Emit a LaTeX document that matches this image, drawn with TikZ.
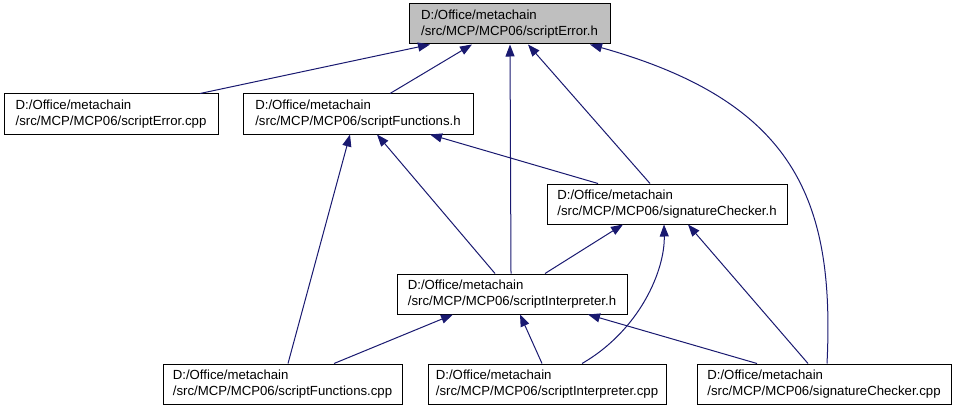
\documentclass[tikz,border=0pt]{standalone}
\usepackage{fontspec}
\setmainfont{Liberation Sans}
\usetikzlibrary{arrows.meta}
\definecolor{edgeblue}{HTML}{191970}

\begin{document}
\begin{tikzpicture}[x=1pt, y=-1pt,
        file/.style={draw, line width=1pt, rectangle, align=left, minimum height=40pt,
            inner ysep=2pt, font=\fontsize{13.2}{16.7}\selectfont},
        edge/.style={draw=edgeblue, line width=1pt,
            -{Triangle[length=12pt, width=9pt, fill=edgeblue]}}]
        \useasboundingbox (0,0) rectangle (957,409);

        % Draw file nodes
        \node[file, fill=gray!50, minimum width=201pt] (errorh) at (509.5,24) {D:/Office/metachain\\/src/MCP/MCP06/scriptError.h};
        \node[file, minimum width=214pt] (errorcpp) at (111,114) {D:/Office/metachain\\/src/MCP/MCP06/scriptError.cpp};
        \node[file, minimum width=230pt] (functionsh) at (358,114) {D:/Office/metachain\\/src/MCP/MCP06/scriptFunctions.h};
        \node[file, minimum width=240pt] (checkerh) at (667,204) {D:/Office/metachain\\/src/MCP/MCP06/signatureChecker.h};
        \node[file, minimum width=230pt] (interpreterh) at (512,294) {D:/Office/metachain\\/src/MCP/MCP06/scriptInterpreter.h};
        \node[file, minimum width=239pt] (functionscpp) at (282.5,384) {D:/Office/metachain\\/src/MCP/MCP06/scriptFunctions.cpp};
        \node[file, minimum width=238pt] (interpretercpp) at (547,384) {D:/Office/metachain\\/src/MCP/MCP06/scriptInterpreter.cpp};
        \node[file, minimum width=254pt] (checkercpp) at (824,384) {D:/Office/metachain\\/src/MCP/MCP06/signatureChecker.cpp};

        % Draw edges into scriptError.h
        \draw[edge] ([xshift=89pt]errorcpp.north) -- ([xshift=-79.5pt]errorh.south);
        \draw[edge] ([xshift=32pt]functionsh.north) -- ([xshift=-37.5pt]errorh.south);
        \draw[edge] ([xshift=-1pt]interpreterh.north) -- ([xshift=0.5pt]errorh.south);
        \draw[edge] ([xshift=-17pt]checkerh.north) -- ([xshift=18.5pt]errorh.south);
        \draw[edge] ([xshift=3pt]checkercpp.north) .. controls (835,200) and (795,102) .. ([xshift=80.5pt]errorh.south);

        % Draw edges into scriptFunctions.h
        \draw[edge] ([xshift=5.5pt]functionscpp.north) -- ([xshift=-8pt]functionsh.south);
        \draw[edge] ([xshift=-17pt]interpreterh.north) -- ([xshift=19pt]functionsh.south);
        \draw[edge] ([xshift=-69pt]checkerh.north) -- ([xshift=72pt]functionsh.south);

        % Draw edges into signatureChecker.h
        \draw[edge] ([xshift=33pt]interpreterh.north) -- ([xshift=-44pt]checkerh.south);
        \draw[edge] ([xshift=35pt]interpretercpp.north) .. controls (640,330) and (665,270) .. ([xshift=-3pt]checkerh.south);
        \draw[edge] ([xshift=-16pt]checkercpp.north) -- ([xshift=21pt]checkerh.south);

        % Draw edges into scriptInterpreter.h
        \draw[edge] ([xshift=51.5pt]functionscpp.north) -- ([xshift=-59pt]interpreterh.south);
        \draw[edge] ([xshift=-5pt]interpretercpp.north) -- ([xshift=8pt]interpreterh.south);
        \draw[edge] ([xshift=-67pt]checkercpp.north) -- ([xshift=76pt]interpreterh.south);
    \end{tikzpicture}
\end{document}
